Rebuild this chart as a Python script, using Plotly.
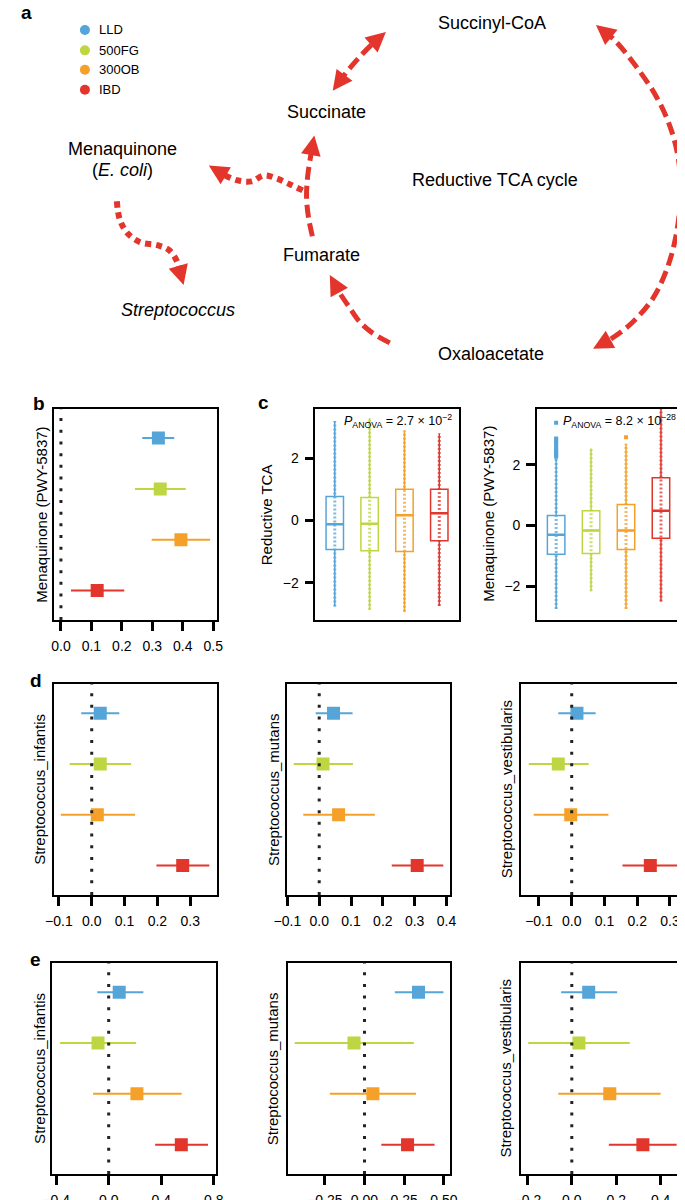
import math
import plotly.graph_objects as go

W, H = 685, 1200
FONT = 'Liberation Sans, Arial, sans-serif'
RED = '#E3352B'

groups = ['LLD', '500FG', '300OB', 'IBD']
colors = ['#56A5D8', '#BED642', '#F5A129', '#E2352B']

# ==== panel b : Menaquinone (PWY-5837) estimate + CI ====
b_est = [0.320, 0.326, 0.394, 0.119]
b_lo = [0.267, 0.243, 0.298, 0.033]
b_hi = [0.372, 0.410, 0.490, 0.208]

# ==== panel c : box plots (q1, median, q3, whisker ends) ====
tca_q1 = [-0.93, -0.97, -1.00, -0.65]
tca_med = [-0.12, -0.10, 0.17, 0.23]
tca_q3 = [0.77, 0.74, 1.01, 1.01]
tca_low = [-2.77, -2.87, -2.94, -2.75]
tca_high = [3.20, 3.30, 2.90, 2.80]

men_q1 = [-0.94, -0.92, -0.79, -0.42]
men_med = [-0.30, -0.16, -0.16, 0.49]
men_q3 = [0.33, 0.49, 0.69, 1.57]
men_low = [-2.74, -2.16, -2.74, -2.49]
men_high = [2.20, 2.53, 2.69, 3.90]
men_out_lld = [2.26, 2.32, 2.38, 2.45, 2.52, 2.60, 2.68, 2.75, 2.82, 2.86, 3.38]
men_out_300ob = [2.90]

# ==== panel d ====
d_inf_est = [0.026, 0.026, 0.017, 0.277]
d_inf_lo = [-0.032, -0.067, -0.094, 0.197]
d_inf_hi = [0.084, 0.120, 0.132, 0.358]
d_mut_est = [0.045, 0.012, 0.061, 0.308]
d_mut_lo = [-0.011, -0.080, -0.050, 0.228]
d_mut_hi = [0.105, 0.106, 0.175, 0.390]
d_ves_est = [0.016, -0.041, -0.003, 0.240]
d_ves_lo = [-0.041, -0.131, -0.116, 0.155]
d_ves_hi = [0.073, 0.052, 0.112, 0.322]

# ==== panel e ====
e_inf_est = [0.080, -0.081, 0.215, 0.553]
e_inf_lo = [-0.087, -0.370, -0.119, 0.354]
e_inf_hi = [0.264, 0.209, 0.556, 0.756]
e_mut_est = [0.340, -0.066, 0.053, 0.271]
e_mut_lo = [0.191, -0.439, -0.218, 0.106]
e_mut_hi = [0.497, 0.311, 0.324, 0.441]
e_ves_est = [0.076, 0.032, 0.171, 0.320]
e_ves_lo = [-0.048, -0.196, -0.061, 0.167]
e_ves_hi = [0.204, 0.261, 0.400, 0.472]

# ==== panel a : pathway sketch (pixel coords of the drawing area) ====
path_succ = [(321, 83), (334, 66), (348, 50), (362, 36), (376, 24)]
path_arc = [(593, 17), (612, 32), (634, 58), (656, 90), (671, 123), (679, 157), (680, 193),
            (676, 227), (667, 260), (652, 291), (630, 316), (607, 333), (590, 342)]
path_oxa = [(380, 336), (362, 326), (349, 315), (338, 300), (327, 284), (318, 268)]
path_fum = [(300, 229), (296, 210), (294, 190), (295, 170), (298, 150), (302, 128)]
path_men = [(290, 183), (277, 177), (263, 171), (250, 168), (237, 174), (223, 173), (210, 168), (193, 158)]
path_strep = [(98, 194), (101, 212), (109, 226), (122, 235), (140, 238), (152, 243), (160, 254), (167, 278)]

node_labels = ['Succinyl-CoA', 'Succinate', 'Menaquinone', '(<i>E. coli</i>)', 'Reductive TCA cycle',
               'Fumarate', '<i>Streptococcus</i>', 'Oxaloacetate']
node_x = [486, 315, 104, 104, 489, 309, 161, 485]
node_y = [15, 104, 141, 163, 173, 248, 303, 347]


def px(x):
    return x / W


def py(y):
    return 1 - y / H


fig = go.Figure()
annots = []
shapes = []

# ---------- panel a ----------
fig.update_layout(
    xaxis=dict(domain=[0, 1], range=[0, W], visible=False, fixedrange=True),
    yaxis=dict(domain=[py(380), 1], range=[380, 0], visible=False, fixedrange=True),
)


def toward(p, q, d):
    # point d px from p in direction of q
    dx, dy = q[0] - p[0], q[1] - p[1]
    L = math.hypot(dx, dy)
    return (p[0] + dx / L * d, p[1] + dy / L * d)


def add_arrow(pts, dash, width, both=False):
    line_pts = list(pts)
    line_pts[-1] = toward(pts[-1], pts[-2], 9)
    heads = [(pts[-1], pts[-2])]
    if both:
        line_pts[0] = toward(pts[0], pts[1], 9)
        heads.append((pts[0], pts[1]))
    fig.add_trace(go.Scatter(
        x=[p[0] for p in line_pts], y=[p[1] for p in line_pts], mode='lines', xaxis='x', yaxis='y',
        line=dict(color=RED, width=width, dash=dash, shape='spline'),
        showlegend=False, hoverinfo='skip'))
    for tip, prev in heads:
        a = toward(tip, prev, 16)
        annots.append(dict(text='', x=tip[0], y=tip[1], ax=a[0], ay=a[1], xref='x', yref='y',
                           axref='x', ayref='y', showarrow=True, arrowhead=2, arrowsize=1.8,
                           arrowwidth=2.2, arrowcolor=RED, standoff=0, startstandoff=0))


add_arrow(path_succ, '13px,6px', 5, both=True)
add_arrow(path_arc, '13px,6px', 5, both=True)
add_arrow(path_oxa, '13px,6px', 5)
add_arrow(path_fum, '13px,6px', 5)
add_arrow(path_men, '6px,5px', 6)
add_arrow(path_strep, '6px,5px', 6)

for t, x, y in zip(node_labels, node_x, node_y):
    annots.append(dict(text=t, x=x, y=y, xref='x', yref='y', showarrow=False,
                       xanchor='center', yanchor='middle', font=dict(size=18, color='black')))

# legend dots
legend_y = [22, 42.5, 62, 82]
fig.add_trace(go.Scatter(x=[65] * 4, y=legend_y, mode='markers', xaxis='x', yaxis='y',
                         marker=dict(size=10, color=colors), showlegend=False, hoverinfo='skip'))
for g, y in zip(groups, legend_y):
    annots.append(dict(text=g, x=77, y=y, xref='x', yref='y', xanchor='left', yanchor='middle',
                       showarrow=False, font=dict(size=13, color='black')))

# ---------- axes helpers ----------
axis_line = dict(showline=True, linecolor='black', linewidth=1.5, mirror=True,
                 showgrid=False, zeroline=False, fixedrange=True)


def ytitle(text, x, y):
    annots.append(dict(text=text, x=px(x), y=py(y), xref='paper', yref='paper',
                       xanchor='center', yanchor='middle', textangle=-90, showarrow=False,
                       font=dict(size=15, color='black')))


def forest(n, box, xr, tickvals, fmt, est, lo, hi, title, title_x):
    x0, y0, x1, y1 = box
    fig.update_layout({
        'xaxis%d' % n: dict(domain=[px(x0), px(x1)], range=xr, anchor='y%d' % n,
                            tickvals=tickvals, tickformat=fmt, ticks='outside', ticklen=9,
                            tickwidth=3, tickcolor='black', tickfont=dict(size=14, color='black'),
                            ticklabelstandoff=3, **axis_line),
        'yaxis%d' % n: dict(domain=[py(y1), py(y0)], range=[3.58, -0.58], anchor='x%d' % n,
                            showticklabels=False, ticks='', **axis_line),
    })
    for i, g in enumerate(groups):
        fig.add_trace(go.Scatter(
            x=[est[i]], y=[i], mode='markers', xaxis='x%d' % n, yaxis='y%d' % n,
            marker=dict(symbol='square', size=13, color=colors[i], line=dict(width=0)),
            error_x=dict(type='data', symmetric=False, array=[hi[i] - est[i]],
                         arrayminus=[est[i] - lo[i]], color=colors[i], thickness=2, width=0),
            showlegend=False, hoverinfo='skip'))
    shapes.append(dict(type='line', xref='x%d' % n, yref='y%d domain' % n, x0=0, x1=0, y0=0, y1=1,
                       line=dict(color='#222222', width=3, dash='3px,8.7px')))
    ytitle(title, title_x, (y0 + y1) / 2)


def boxes(n, box, xr, yr, q1, med, q3, low, high, title, title_x, ptext):
    x0, y0, x1, y1 = box
    fig.update_layout({
        'xaxis%d' % n: dict(domain=[px(x0), px(x1)], range=xr, anchor='y%d' % n,
                            showticklabels=False, ticks='', **axis_line),
        'yaxis%d' % n: dict(domain=[py(y1), py(y0)], range=yr, anchor='x%d' % n,
                            tickvals=[-2, 0, 2], ticks='outside', ticklen=9, tickwidth=3,
                            tickcolor='black', tickfont=dict(size=14, color='black'),
                            ticklabelstandoff=3, **axis_line),
    })
    for i, g in enumerate(groups):
        # column of sample dots along the whisker
        fig.add_trace(go.Scatter(
            x=[i + 1, i + 1], y=[low[i], high[i]], mode='lines', xaxis='x%d' % n, yaxis='y%d' % n,
            line=dict(color=colors[i], width=3, dash='2px,2px'), opacity=0.75,
            showlegend=False, hoverinfo='skip'))
        fig.add_trace(go.Box(
            x=[i + 1], q1=[q1[i]], median=[med[i]], q3=[q3[i]], lowerfence=[low[i]],
            upperfence=[high[i]], width=0.5, whiskerwidth=0, boxpoints=False,
            line=dict(color=colors[i], width=1.5), fillcolor='rgba(255,255,255,0)',
            xaxis='x%d' % n, yaxis='y%d' % n, showlegend=False, hoverinfo='skip'))
        # thicker median
        fig.add_trace(go.Scatter(
            x=[i + 0.75, i + 1.25], y=[med[i], med[i]], mode='lines', xaxis='x%d' % n,
            yaxis='y%d' % n, line=dict(color=colors[i], width=2.5), showlegend=False, hoverinfo='skip'))
    ytitle(title, title_x, (y0 + y1) / 2)
    annots.append(dict(text=ptext, x=px(x1 - 6), y=py(414), xref='paper', yref='paper',
                       xanchor='right', yanchor='middle', showarrow=False,
                       font=dict(size=12.5, color='black')))


# ---------- panel b ----------
forest(2, (33, 402, 201, 614), [-0.023, 0.511], [0, 0.1, 0.2, 0.3, 0.4, 0.5], '.1f',
       b_est, b_lo, b_hi, 'Menaquinone (PWY-5837)', 20)

# ---------- panel c ----------
boxes(3, (303, 402, 452, 614), [0.44, 4.58], [-3.2, 3.6], tca_q1, tca_med, tca_q3, tca_low, tca_high,
      'Reductive TCA', 252, '<i>P</i><sub>ANOVA</sub> = 2.7 × 10<sup>−2</sup>')
boxes(4, (532, 402, 684, 614), [0.45, 4.66], [-3.1, 3.84], men_q1, men_med, men_q3, men_low, men_high,
      'Menaquinone (PWY-5837)', 482, '<i>P</i><sub>ANOVA</sub> = 8.2 × 10<sup>−28</sup>')
fig.add_trace(go.Scatter(x=[1] * len(men_out_lld), y=men_out_lld, mode='markers', xaxis='x4', yaxis='y4',
                         marker=dict(symbol='square', size=4, color=colors[0]), showlegend=False,
                         hoverinfo='skip'))
fig.add_trace(go.Scatter(x=[3] * len(men_out_300ob), y=men_out_300ob, mode='markers', xaxis='x4',
                         yaxis='y4', marker=dict(symbol='square', size=4, color=colors[2]),
                         showlegend=False, hoverinfo='skip'))

# ---------- panel d ----------
forest(5, (33, 678, 201, 890), [-0.115, 0.38], [-0.1, 0, 0.1, 0.2, 0.3], '.1f',
       d_inf_est, d_inf_lo, d_inf_hi, 'Streptococcus_infantis', 18)
forest(6, (274, 678, 442.5, 890), [-0.1006, 0.412], [-0.1, 0, 0.1, 0.2, 0.3, 0.4], '.1f',
       d_mut_est, d_mut_lo, d_mut_hi, 'Streptococcus_mutans', 260)
forest(7, (515.5, 678, 683.7, 890), [-0.155, 0.342], [-0.1, 0, 0.1, 0.2, 0.3], '.1f',
       d_ves_est, d_ves_lo, d_ves_hi, 'Streptococcus_vestibularis', 500)

# ---------- panel e ----------
forest(8, (31.5, 958, 200, 1170), [-0.428, 0.814], [-0.4, 0, 0.4, 0.8], '.1f',
       e_inf_est, e_inf_lo, e_inf_hi, 'Streptococcus_infantis', 18)
forest(9, (274.4, 958, 442.5, 1170), [-0.484, 0.54], [-0.25, 0, 0.25, 0.5], '.2f',
       e_mut_est, e_mut_lo, e_mut_hi, 'Streptococcus_mutans', 259)
forest(10, (515.5, 958, 683.7, 1170), [-0.229, 0.504], [-0.2, 0, 0.2, 0.4], '.1f',
       e_ves_est, e_ves_lo, e_ves_hi, 'Streptococcus_vestibularis', 500)

# ---------- panel letters ----------
for t, x, y in [('a', 5, 5), ('b', 18, 397), ('c', 250, 396), ('d', 14, 675), ('e', 14, 955)]:
    annots.append(dict(text='<b>%s</b>' % t, x=px(x), y=py(y), xref='paper', yref='paper',
                       xanchor='center', yanchor='middle', showarrow=False,
                       font=dict(size=19, color='black')))

fig.update_layout(
    width=W, height=H, margin=dict(l=0, r=0, t=0, b=0),
    paper_bgcolor='white', plot_bgcolor='white',
    font=dict(family=FONT, color='black'),
    annotations=annots, shapes=shapes, showlegend=False,
)

fig.write_html("out.html")
